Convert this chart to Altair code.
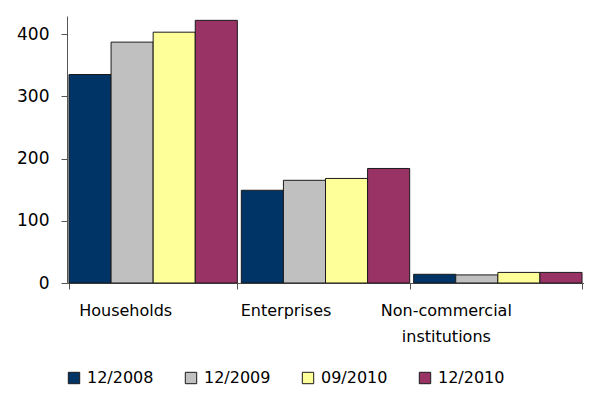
import altair as alt
import pandas as pd

categories = ["Households", "Enterprises", "Non-commercial institutions"]
periods = ["12/2008", "12/2009", "09/2010", "12/2010"]
v_2008_12 = [335, 149, 14]
v_2009_12 = [387, 165, 13]
v_2010_09 = [403, 168, 17]
v_2010_12 = [422, 184, 17]
colors = ["#003366", "#C0C0C0", "#FFFF99", "#993366"]
y_ticks = [0, 100, 200, 300, 400]

rows = []
for p, vals in zip(periods, [v_2008_12, v_2009_12, v_2010_09, v_2010_12]):
    for c, v in zip(categories, vals):
        rows.append({"category": c, "period": p, "value": v})
df = pd.DataFrame(rows)

FONT = "DejaVu Sans"
AXC = "#555555"

chart = alt.Chart(df).mark_bar(stroke="#1a1a1a", strokeWidth=1).encode(
    x=alt.X(
        "category:N", sort=categories,
        scale=alt.Scale(paddingInner=0.023, paddingOuter=0.0115),
        axis=alt.Axis(
            title=None, labelAngle=0, tickBand="extent", tickSize=6,
            domainColor=AXC, tickColor=AXC, labelColor="#000000",
            labelFont=FONT, labelFontSize=16, labelPadding=13,
            labelBaseline="top", labelLineHeight=26,
            labelExpr="datum.value == 'Non-commercial institutions' ? ['Non-commercial', 'institutions'] : datum.value",
            labelOffset={"condition": [
                {"test": "datum.value == 'Households'", "value": -28},
                {"test": "datum.value == 'Enterprises'", "value": -40}],
                "value": -52},
        ),
    ),
    xOffset=alt.XOffset("period:N", sort=periods,
                        scale=alt.Scale(paddingInner=0, paddingOuter=0)),
    y=alt.Y(
        "value:Q",
        scale=alt.Scale(domain=[0, 429], nice=False),
        axis=alt.Axis(
            title=None, values=y_ticks, grid=False, tickSize=6,
            domainColor=AXC, tickColor=AXC, labelColor="#000000",
            labelFont=FONT, labelFontSize=17, labelPadding=12,
        ),
    ),
    color=alt.Color(
        "period:N", sort=periods,
        scale=alt.Scale(domain=periods, range=colors),
        legend=alt.Legend(
            title=None, orient="none", direction="horizontal",
            legendX=-1, legendY=354,
            symbolType="square", symbolSize=130,
            symbolStrokeColor="#1a1a1a", symbolStrokeWidth=1,
            labelFont=FONT, labelFontSize=16, labelColor="#000000",
            labelOffset=5, columnPadding=29,
        ),
    ),
).properties(
    width=517, height=267,
    autosize=alt.AutoSizeParams(type="none"),
    padding={"left": 59, "top": 8, "right": 0, "bottom": 106},
).configure_view(stroke=None)

chart.save("out.html", embed_options={"renderer": "svg", "actions": False})
